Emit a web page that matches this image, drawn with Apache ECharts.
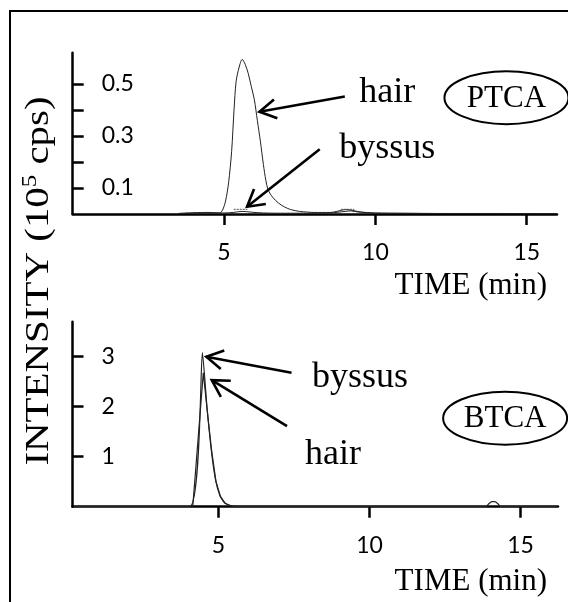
<!DOCTYPE html>
<html><head><meta charset="utf-8">
<script src="https://cdn.jsdelivr.net/npm/echarts@6/dist/echarts.min.js"></script>
<style>html,body{margin:0;padding:0;background:#fff}#c{width:568px;height:602px}</style>
</head><body><div id="c"></div>
<script>
// ---- data ----
const xTickValues = [5, 10, 15];
const ptcaYTicks = [0.1, 0.2, 0.3, 0.4, 0.5];
const ptcaYLabels = [0.1, 0.3, 0.5];
const btcaYTicks = [1, 2, 3];
const btcaYLabels = [1, 2, 3];

const ptcaHair = [[3.5,0.002],[4.0,0.005],[4.5,0.006],[4.85,0.004],[4.95,0.015],[5.05,0.05],[5.15,0.12],[5.25,0.24],[5.33,0.40],[5.4,0.51],[5.5,0.565],[5.6,0.594],[5.7,0.575],[5.8,0.54],[5.9,0.49],[6.0,0.44],[6.1,0.36],[6.2,0.28],[6.3,0.19],[6.38,0.13],[6.45,0.095],[6.6,0.065],[6.8,0.042],[7.0,0.027],[7.2,0.017],[7.5,0.010],[8.0,0.006],[8.5,0.006],[8.8,0.012],[9.0,0.017],[9.2,0.015],[9.5,0.008],[10,0.004],[11,0.003],[12,0.002],[14,0.002],[16,0.001]];
const ptcaByssus = [[3.5,0.002],[4.5,0.004],[5.0,0.004],[5.3,0.006],[5.6,0.010],[5.9,0.007],[6.3,0.004],[7.0,0.003],[8.5,0.004],[9.0,0.010],[9.2,0.012],[9.4,0.008],[10,0.003],[12,0.002],[16,0.001]];
const ptcaByssusBar1 = [[5.32,0.018],[5.77,0.018]];
const ptcaByssusBar2 = [[8.86,0.018],[9.30,0.018]];

const btcaByssus = [[0.2,0],[4.05,0],[4.47,3.08],[4.62,2.0],[4.75,1.2],[4.9,0.55],[5.05,0.22],[5.2,0.08],[5.4,0.02],[5.6,0],[13.85,0],[13.95,0.06],[14.05,0.1],[14.15,0.1],[14.25,0.06],[14.35,0],[16.2,0]];
const btcaHair = [[4.15,0],[4.5,2.68],[4.65,1.8],[4.78,1.1],[4.92,0.5],[5.07,0.2],[5.22,0.07],[5.45,0.01],[5.6,0]];

// annotations in data coordinates: [grid, text, x, y]
const labelTexts = [[0,'hair',10.39,0.466],[0,'byssus',10.39,0.25],[1,'byssus',9.69,2.58],[1,'hair',8.79,1.05]];
const arrows = [[0,8.99,0.452,6.17,0.393],[0,8.16,0.249,5.76,0.028],[1,7.42,2.68,4.60,3.0],[1,7.27,1.61,4.78,2.53]];
const ovals = [[0,'PTCA',14.33,0.447],[1,'BTCA',14.49,1.77]];

const SERIF = '"Liberation Serif","Times New Roman",serif';
const SANS = 'Lato, "Noto Sans", sans-serif';

function xAxisCfg(gi, min, max) {
  return {
    type: 'value', gridIndex: gi, min: min, max: max,
    axisLine: {show: true, lineStyle: {color: '#000', width: 2.5}},
    axisTick: {show: true, customValues: xTickValues, length: 11, lineStyle: {color: '#000', width: 2.5}},
    axisLabel: {customValues: xTickValues, color: '#000', fontFamily: SANS, fontSize: 23, margin: 27},
    splitLine: {show: false}
  };
}
function yAxisCfg(gi, max, ticks, labels, fmt) {
  return {
    type: 'value', gridIndex: gi, min: 0, max: max,
    axisLine: {show: true, lineStyle: {color: '#000', width: 2.5}},
    axisTick: {show: true, inside: true, customValues: ticks, length: 11, lineStyle: {color: '#000', width: 2.5}},
    axisLabel: {inside: true, customValues: labels, margin: 29, color: '#000', fontFamily: SANS, fontSize: 23, formatter: fmt},
    splitLine: {show: false}
  };
}
function lineSeries(xi, data, w, extra) {
  return Object.assign({
    type: 'line', xAxisIndex: xi, yAxisIndex: xi, data: data, showSymbol: false, symbol: 'none',
    lineStyle: {color: '#222', width: w}, silent: true, animation: false
  }, extra || {});
}

const chart = echarts.init(document.getElementById('c'), null, {renderer: 'canvas'});
chart.setOption({
  animation: false,
  backgroundColor: '#fff',
  grid: [
    {left: 72.7, top: 52.7, width: 484.3, height: 161.3},
    {left: 72.5, top: 321.7, width: 485.5, height: 185}
  ],
  xAxis: [xAxisCfg(0, 0, 16), xAxisCfg(1, 0.17, 16.24)],
  yAxis: [
    yAxisCfg(0, 0.62, ptcaYTicks, ptcaYLabels, v => v.toFixed(1)),
    yAxisCfg(1, 3.7, btcaYTicks, btcaYLabels, v => String(Math.round(v)))
  ],
  series: [
    lineSeries(0, ptcaHair, 1, {smooth: 0.3}),
    lineSeries(0, ptcaByssus, 1, {smooth: 0.3}),
    lineSeries(0, ptcaByssusBar1, 1, {lineStyle: {color: '#555', width: 1, type: [2, 1]}}),
    lineSeries(0, ptcaByssusBar2, 1, {lineStyle: {color: '#555', width: 1, type: [2, 1]}}),
    lineSeries(1, btcaByssus, 1.2, {smooth: 0.15}),
    lineSeries(1, btcaHair, 1.2)
  ]
});

function px(gi, x, y) { return chart.convertToPixel({gridIndex: gi}, [x, y]); }
const g = [];
g.push({type: 'rect', shape: {x: 10, y: 11, width: 700, height: 700}, style: {fill: 'none', stroke: '#000', lineWidth: 2}, z: 100});
labelTexts.forEach(t => {
  const p = px(t[0], t[2], t[3]);
  g.push({type: 'text', x: p[0], y: p[1], style: {text: t[1], font: '36px ' + SERIF, fill: '#000', align: 'center', verticalAlign: 'middle'}, z: 100});
});
arrows.forEach(a => {
  const t = px(a[0], a[1], a[2]), h = px(a[0], a[3], a[4]);
  const dx = h[0] - t[0], dy = h[1] - t[1], L = Math.hypot(dx, dy);
  const ux = dx / L, uy = dy / L, wl = 19, ang = 30 * Math.PI / 180;
  const w1 = [h[0] - wl * (ux * Math.cos(ang) - uy * Math.sin(ang)), h[1] - wl * (uy * Math.cos(ang) + ux * Math.sin(ang))];
  const w2 = [h[0] - wl * (ux * Math.cos(-ang) - uy * Math.sin(-ang)), h[1] - wl * (uy * Math.cos(-ang) + ux * Math.sin(-ang))];
  g.push({type: 'line', shape: {x1: t[0], y1: t[1], x2: h[0], y2: h[1]}, style: {stroke: '#000', lineWidth: 2.6}, z: 100});
  g.push({type: 'polyline', shape: {points: [w1, h, w2]}, style: {stroke: '#000', lineWidth: 2.6, fill: null}, z: 100});
});
ovals.forEach(o => {
  const p = px(o[0], o[2], o[3]);
  g.push({type: 'ellipse', shape: {cx: p[0], cy: p[1], rx: 62, ry: 26.5}, style: {fill: 'none', stroke: '#000', lineWidth: 2}, z: 100});
  g.push({type: 'text', x: p[0], y: p[1] + 1, style: {text: o[1], font: '31px ' + SERIF, fill: '#000', align: 'center', verticalAlign: 'middle'}, z: 101});
});
[[0], [1]].forEach(([gi]) => {
  const p = px(gi, 16, 0);
  g.push({type: 'text', x: 547, y: p[1] + (gi === 0 ? 72 : 75), style: {text: 'TIME (min)', font: '31px ' + SERIF, fill: '#000', align: 'right', verticalAlign: 'middle'}, z: 100});
});
g.push({type: 'text', x: 39, y: 281, rotation: Math.PI / 2, scaleX: 1.24,
  style: {text: '{a|INTENSITY (10}{s|5}{a| cps)}', align: 'center', verticalAlign: 'middle', fill: '#000',
    rich: {a: {font: '33px ' + SERIF, fill: '#000', lineHeight: 36}, s: {font: '20px ' + SERIF, fill: '#000', verticalAlign: 'top', lineHeight: 36}}}, z: 100});
chart.setOption({graphic: g});
</script>
</body></html>
